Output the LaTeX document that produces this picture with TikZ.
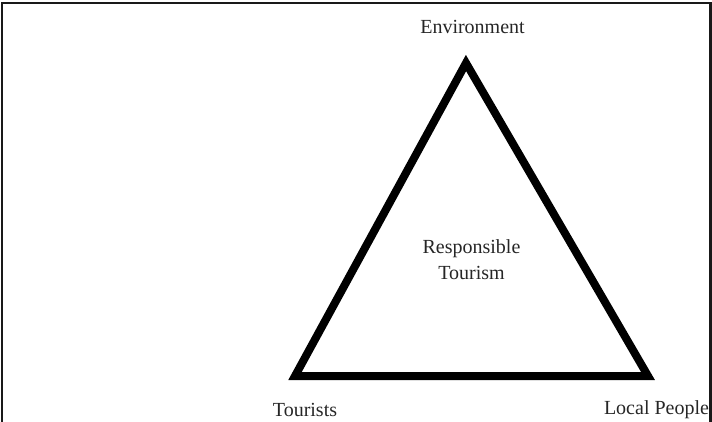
\documentclass[tikz,border=0pt]{standalone}
\usepackage{fontspec}
\setmainfont{Liberation Serif}
\begin{document}
\begin{tikzpicture}[x=1pt,y=-1pt,
  lbl/.style={inner sep=0pt,font=\fontsize{20}{24}\selectfont,text=black!85},
  frame/.style={line width=2.5pt,draw=black!90},
  tri/.style={line width=8pt,line join=miter,draw=black}]
\useasboundingbox (0,0) rectangle (712,421);
\coordinate (fbl) at (2,422);
\coordinate (ftl) at (2,3);
\coordinate (ftr) at (710.5,3);
\coordinate (fbr) at (710.5,422);
\draw[frame] (fbl) -- (ftl) -- (ftr) -- (fbr);
\coordinate (top) at (466,63);
\coordinate (bl) at (295,376);
\coordinate (br) at (648,376);
\draw[tri] (top) -- (bl) -- (br) -- cycle;
\node[lbl] (env) at (472.5,27) {Environment};
\node[lbl] (tour) at (305,410) {Tourists};
\node[lbl] (loc) at (656.5,410) {Local People};
\node[lbl,align=center,font=\fontsize{20}{26}\selectfont] (rt) at (471.5,260) {Responsible\\Tourism};
\end{tikzpicture}
\end{document}
